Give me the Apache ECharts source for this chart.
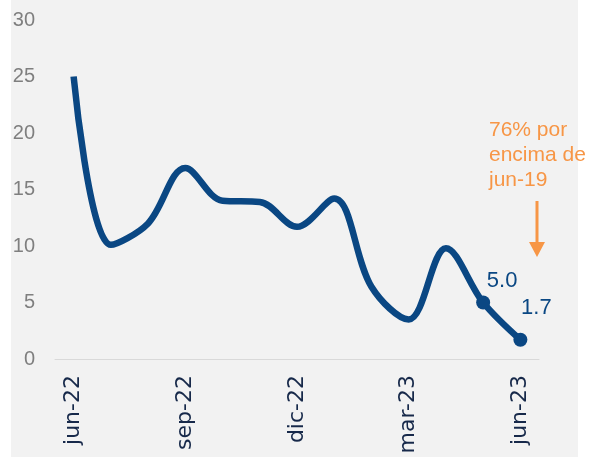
<!DOCTYPE html>
<html>
<head>
<meta charset="utf-8">
<script src="https://cdn.jsdelivr.net/npm/echarts@6/dist/echarts.min.js"></script>
<style>
  html, body { margin: 0; padding: 0; background: #ffffff; }
  #lineChart { width: 589px; height: 457px; }
</style>
</head>
<body>
<div id="lineChart"></div>
<script>
const months = ['jun-22', 'jul-22', 'ago-22', 'sep-22', 'oct-22', 'nov-22', 'dic-22',
  'ene-23', 'feb-23', 'mar-23', 'abr-23', 'may-23', 'jun-23']
const values = [25.0, 10.1, 12.0, 16.9, 14.0, 13.9, 11.7, 14.2, 6.4, 3.5, 9.8, 5.0, 1.7]
const yTicks = [0, 5, 10, 15, 20, 25, 30]
const labelled = ['may-23', 'jun-23']
const note = '76% por\nencima de\njun-19'

const blue = '#0a4783'
const orange = '#f79646'

const chart = echarts.init(document.getElementById('lineChart'))

// solo los dos últimos meses llevan punto y etiqueta
const seriesData = values.map((v, i) => {
  if (labelled.indexOf(months[i]) < 0) return { value: v, symbolSize: 0 }
  return {
    value: v,
    symbolSize: 14,
    label: {
      show: true,
      formatter: v.toFixed(1),
      offset: i === months.length - 1 ? [16, -9] : [19, 1],
    },
  }
})

chart.setOption({
  animation: false,
  textStyle: { fontFamily: '"Liberation Sans", Arial, sans-serif' },
  grid: { left: 55, right: 50, top: 20, bottom: 98 },
  xAxis: {
    type: 'category',
    data: months,
    boundaryGap: true,
    axisTick: { show: false },
    axisLine: { lineStyle: { color: '#d9d9d9', width: 1 } },
    axisLabel: {
      rotate: 90,
      interval: 2,
      margin: 16,
      fontSize: 22,
      fontFamily: '"DejaVu Sans", sans-serif',
      color: '#17294a',
    },
  },
  yAxis: {
    type: 'value',
    min: yTicks[0],
    max: yTicks[yTicks.length - 1],
    interval: 5,
    splitLine: { show: false },
    axisLine: { show: false },
    axisTick: { show: false },
    axisLabel: { margin: 20, fontSize: 20, color: '#7f7f7f' },
  },
  graphic: [
    {
      type: 'rect',
      z: -10,
      silent: true,
      shape: { x: 11, y: 0, width: 567, height: 457 },
      style: { fill: '#f2f2f2' },
    },
    {
      type: 'text',
      x: 489,
      y: 118,
      style: {
        text: note,
        font: '21px "Liberation Sans", Arial, sans-serif',
        fill: orange,
        lineHeight: 25,
      },
    },
    {
      type: 'line',
      shape: { x1: 537, y1: 201, x2: 537, y2: 244 },
      style: { stroke: orange, lineWidth: 3 },
    },
    {
      type: 'polygon',
      shape: { points: [[529, 242], [545, 242], [537, 257]] },
      style: { fill: orange },
    },
  ],
  series: [
    {
      type: 'line',
      data: seriesData,
      smooth: 0.35,
      symbol: 'circle',
      showAllSymbol: true,
      lineStyle: { color: blue, width: 6.5 },
      itemStyle: { color: blue },
      label: { position: 'top', fontSize: 22, color: blue },
    },
  ],
})
</script>
</body>
</html>
